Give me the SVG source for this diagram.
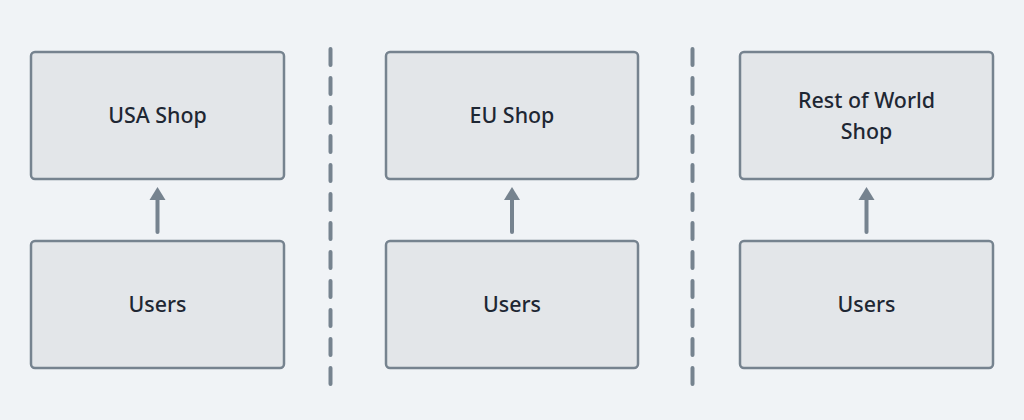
<svg xmlns="http://www.w3.org/2000/svg" width="1024" height="420" viewBox="0 0 1024 420">
<style>
.box{fill:#e3e6e9;stroke:#76838f;stroke-width:2.5}
.lbl{font-family:"Noto Sans","Liberation Sans",sans-serif;font-size:21.4px;font-weight:500;fill:#1e2733;text-anchor:middle;dominant-baseline:central}
.div{stroke:#76838f;stroke-width:4;stroke-linecap:round;stroke-dasharray:16 13;fill:none}
.arr{stroke:#76838f;stroke-width:4;stroke-linecap:round;fill:none}
.head{fill:#76838f}
</style>
<rect width="1024" height="420" fill="#f0f3f6"/>
<g id="dividers">
<line class="div" x1="330.5" y1="49" x2="330.5" y2="385"/>
<line class="div" x1="692.5" y1="49" x2="692.5" y2="385"/>
</g>
<g id="usa-shop"><rect class="box" x="31" y="52" width="253" height="127" rx="4"/><text class="lbl" x="157.5" y="114.5">USA Shop</text></g>
<g id="usa-users"><rect class="box" x="31" y="241" width="253" height="127" rx="4"/><text class="lbl" x="157.5" y="303.5">Users</text></g>
<g id="eu-shop"><rect class="box" x="386" y="52" width="252" height="127" rx="4"/><text class="lbl" x="512" y="114.5">EU Shop</text></g>
<g id="eu-users"><rect class="box" x="386" y="241" width="252" height="127" rx="4"/><text class="lbl" x="512" y="303.5">Users</text></g>
<g id="row-shop"><rect class="box" x="740" y="52" width="253" height="127" rx="4"/><text class="lbl" x="866.5" y="99">Rest of World</text><text class="lbl" x="866.5" y="130.5">Shop</text></g>
<g id="row-users"><rect class="box" x="740" y="241" width="253" height="127" rx="4"/><text class="lbl" x="866.5" y="303.5">Users</text></g>
<g id="connectors">
<line class="arr" x1="157.5" y1="232" x2="157.5" y2="198"/><polygon class="head" points="157.5,187 149.5,200 165.5,200"/>
<line class="arr" x1="512" y1="232" x2="512" y2="198"/><polygon class="head" points="512,187 504,200 520,200"/>
<line class="arr" x1="866.5" y1="232" x2="866.5" y2="198"/><polygon class="head" points="866.5,187 858.5,200 874.5,200"/>
</g>
</svg>
